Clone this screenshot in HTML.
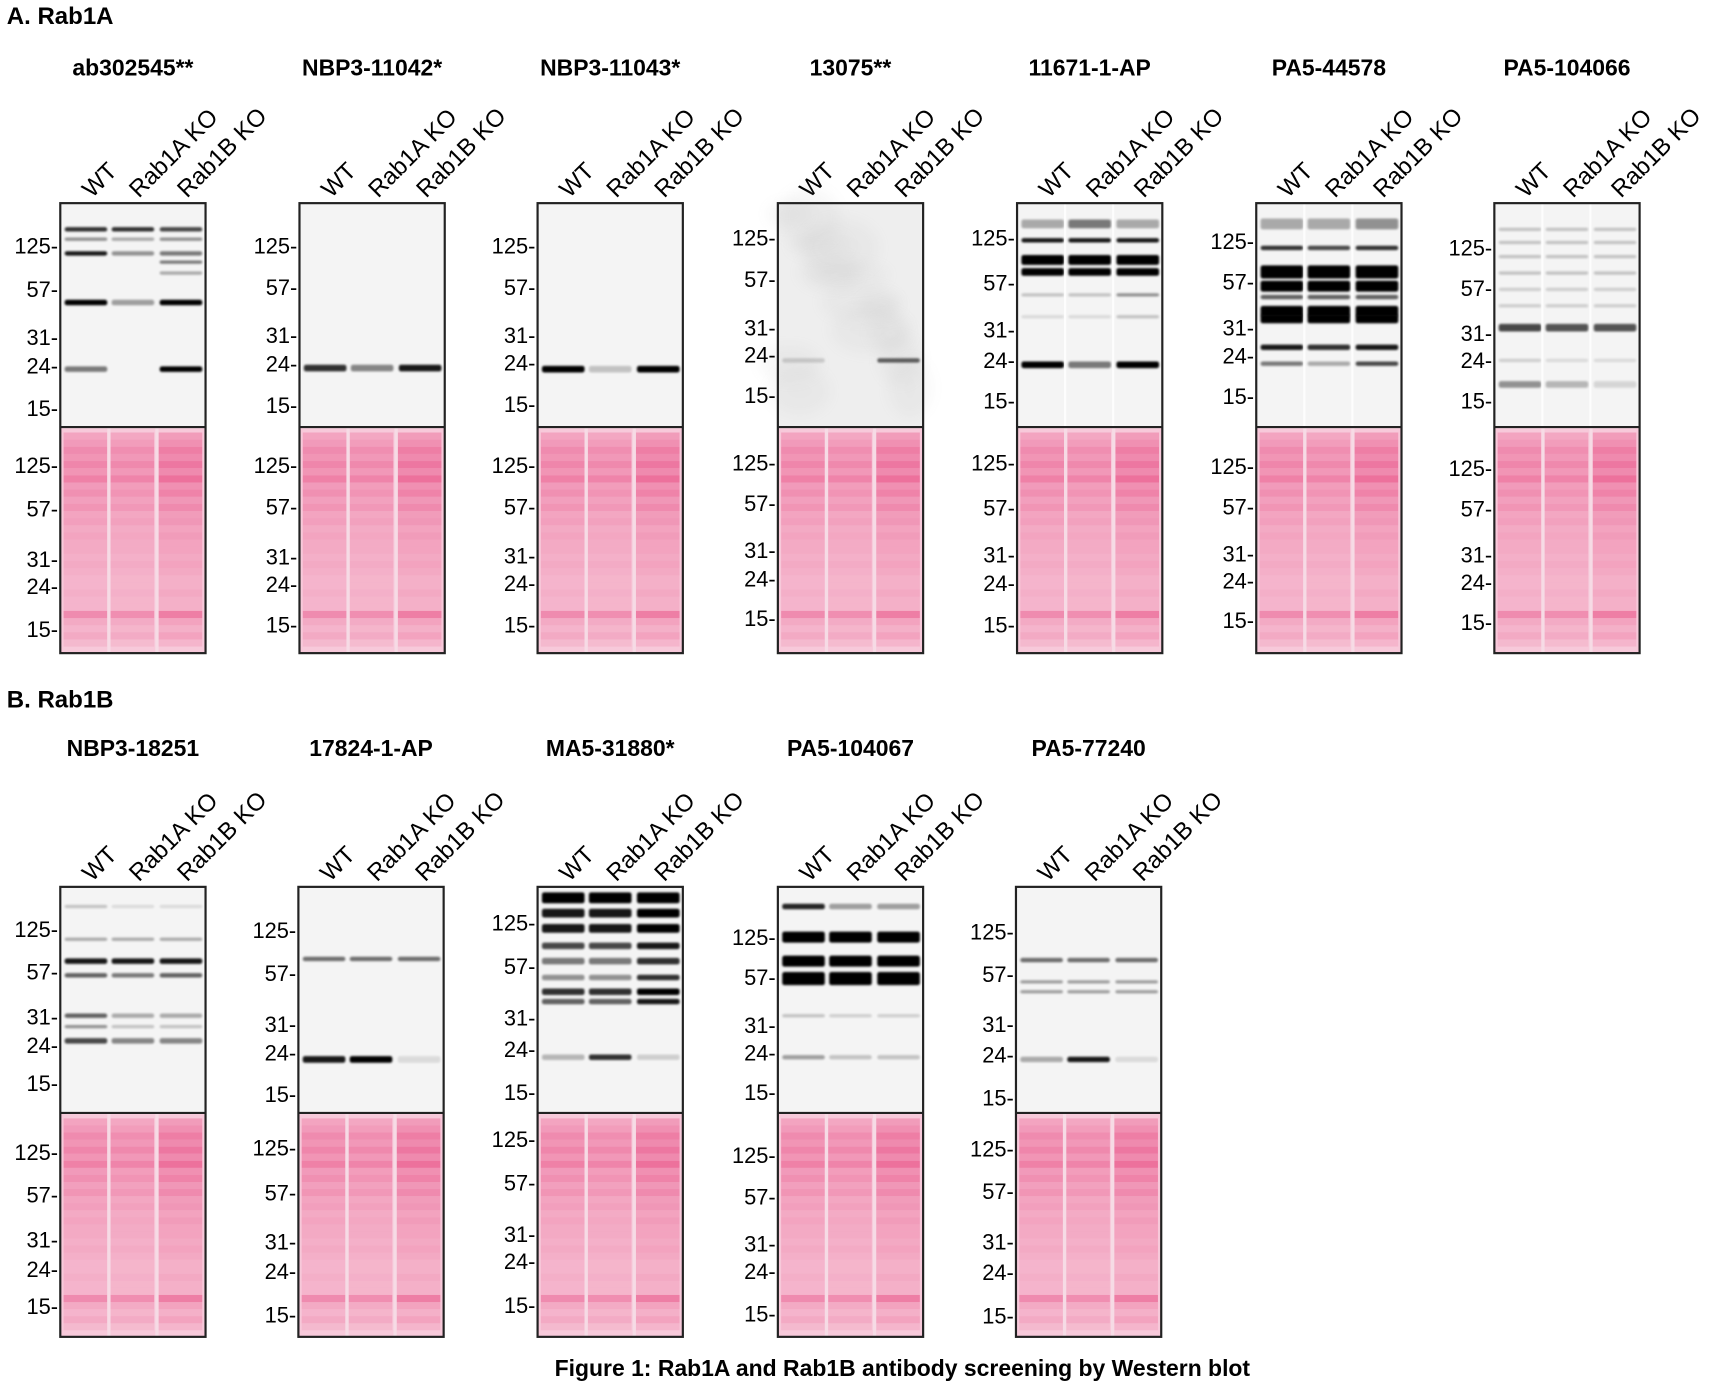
<!DOCTYPE html>
<html><head><meta charset="utf-8">
<style>
html,body{margin:0;padding:0;background:#fff;}
svg{display:block;font-family:"Liberation Sans",Arial,sans-serif;}
</style></head>
<body>
<svg id="s" width="1713" height="1386" viewBox="0 0 1568 1269" xmlns="http://www.w3.org/2000/svg">
<defs>
<filter id="bl" x="-50%" y="-50%" width="200%" height="200%"><feGaussianBlur stdDeviation="6"/></filter>
<filter id="bl2" x="-10%" y="-100%" width="120%" height="300%"><feGaussianBlur stdDeviation="0.9"/></filter>
</defs>
<text x="6" y="22" font-size="22" font-weight="bold">A.  Rab1A</text>
<text x="6" y="648" font-size="22" font-weight="bold">B.  Rab1B</text>
<text x="826" y="1260" font-size="21" font-weight="bold" text-anchor="middle">Figure 1: Rab1A and Rab1B antibody screening by Western blot</text>
<g id="g"></g>
</svg>
<script>
var g=document.getElementById('g');var h='';
function P(o){
 var x=o.x,w=133,t=o.t,m=o.m,b=o.b;
 var lanes=[x+23,x+66,x+110];
 h+='<text x="'+(x+w/2)+'" y="'+(o.ty+7)+'" font-size="21" font-weight="bold" text-anchor="middle">'+o.name+'</text>';
 var labs=['WT','Rab1A KO','Rab1B KO'];
 for(var i=0;i<3;i++){h+='<text transform="translate('+(lanes[i]+6)+','+(t-4)+') rotate(-45)" font-size="22">'+labs[i]+'</text>';}
 h+='<rect x="'+x+'" y="'+t+'" width="'+w+'" height="'+(m-t)+'" fill="'+(o.bg||'#f4f4f4')+'"/>';
 if(o.mott){for(var k=0;k<14;k++){h+='<ellipse cx="'+(x+10+((k*37)%120))+'" cy="'+(t+10+((k*53)%(m-t-20)))+'" rx="'+(20+k%3*8)+'" ry="'+(12+k%4*5)+'" fill="#999" opacity="0.07" filter="url(#bl)"/>';}}
 o.bands.forEach(function(bd){
  for(var i=0;i<3;i++){var a=bd[1][i];if(a<=0)continue;var th=bd[2]||4;
   h+='<rect x="'+(lanes[i]-19)+'" y="'+(bd[0]-th/2)+'" width="39" height="'+th+'" rx="2" fill="#000" opacity="'+a+'" filter="url(#bl2)"/>';}
 });
 h+='<rect x="'+(x+43)+'" y="'+t+'" width="2" height="'+(m-t)+'" fill="#fff" opacity="'+(o.gap||0)+'"/>';
 h+='<rect x="'+(x+87)+'" y="'+t+'" width="2" height="'+(m-t)+'" fill="#fff" opacity="'+(o.gap||0)+'"/>';
 h+='<rect x="'+x+'" y="'+(m+2)+'" width="'+w+'" height="'+(b-m-2)+'" fill="#f7c9da"/>';
 var pk=[0.35,0.45,0.6,0.5,0.65,0.5,0.7,0.45,0.55,0.4,0.5,0.35,0.4,0.3,0.35,0.3,0.3,0.25,0.3,0.25,0.2,0.2,0.25,0.2,0.2,0.6,0.3,0.2,0.3,0.15];
 var H=b-m-2;
 for(var i=0;i<3;i++){
  var mult=[0.9,0.85,1.1][i];
  for(var k=0;k<pk.length;k++){var yy=m+6+k*(H-10)/pk.length;
   h+='<rect x="'+(lanes[i]-20)+'" y="'+yy+'" width="40" height="'+((H-10)/pk.length)+'" fill="#e5306f" opacity="'+Math.min(0.8,pk[k]*mult*0.75)+'"/>';}
 }
 h+='<rect x="'+(x+43)+'" y="'+(m+2)+'" width="3" height="'+H+'" fill="#f6dbe5"/><rect x="'+(x+87)+'" y="'+(m+2)+'" width="3" height="'+H+'" fill="#f6dbe5"/>';
 h+='<rect x="'+x+'" y="'+t+'" width="'+w+'" height="'+(b-t)+'" fill="none" stroke="#222" stroke-width="2"/>';
 h+='<line x1="'+x+'" y1="'+(m+1)+'" x2="'+(x+w)+'" y2="'+(m+1)+'" stroke="#222" stroke-width="2"/>';
 var mk=['125-','57-','31-','24-','15-'];
 for(var i=0;i<5;i++){h+='<text x="'+(x-2)+'" y="'+(o.mu[i]+7)+'" font-size="20" text-anchor="end">'+mk[i]+'</text>';
  h+='<text x="'+(x-2)+'" y="'+(o.ml[i]+7)+'" font-size="20" text-anchor="end">'+mk[i]+'</text>';}
}
var A=62,B=685;
P({x:55,t:186,m:390,b:598,ty:A,name:'ab302545**',mu:[225,265,309,335,374],ml:[426,466,512,537,576],
 bands:[[210,[.8,.8,.7],4],[219,[.4,.3,.4],3],[232,[.9,.4,.5],4],[240,[0,0,.5],3],[250,[0,0,.3],3],[277,[1,.35,1],5],[338,[.5,0,1],5]]});
P({x:274,t:186,m:390,b:598,ty:A,name:'NBP3-11042*',mu:[225,263,307,333,371],ml:[426,464,510,535,572],
 bands:[[337,[.8,.45,.9],6]]});
P({x:492,t:186,m:390,b:598,ty:A,name:'NBP3-11043*',mu:[225,263,307,332,370],ml:[426,464,509,534,572],
 bands:[[338,[1,.2,1],6]]});
P({x:712,t:186,m:390,b:598,ty:A,name:'13075**',mott:1,bg:'#eee',mu:[218,256,300,325,362],ml:[424,461,504,530,566],
 bands:[[330,[.15,0,.6],4]]});
P({x:931,t:186,m:390,b:598,ty:A,name:'11671-1-AP',gap:.8,mu:[218,259,302,330,367],ml:[424,465,508,534,572],
 bands:[[205,[.3,.5,.3],8],[220,[.9,.9,.9],4],[238,[1,1,1],9],[249,[1,1,1],7],[270,[.2,.2,.4],3],[290,[.1,.1,.2],3],[334,[1,.5,1],6]]});
P({x:1150,t:186,m:390,b:598,ty:A,name:'PA5-44578',gap:.8,mu:[221,258,300,326,363],ml:[427,464,507,532,568],
 bands:[[205,[.3,.3,.4],10],[227,[.8,.7,.8],4],[249,[1,1,1],12],[262,[1,1,1],10],[272,[.6,.6,.6],4],[285,[1,1,1],10],[292,[1,1,1],8],[318,[.9,.8,.9],5],[333,[.5,.3,.7],4]]});
P({x:1368,t:186,m:390,b:598,ty:A,name:'PA5-104066',gap:.8,mu:[227,264,305,330,367],ml:[429,466,508,533,570],
 bands:[[210,[.2,.2,.2],3],[222,[.2,.2,.2],3],[235,[.2,.2,.2],3],[250,[.2,.2,.2],3],[265,[.15,.15,.15],3],[280,[.15,.15,.15],3],[300,[.7,.65,.65],7],[330,[.15,.1,.1],3],[352,[.4,.25,.12],6]]});
P({x:55,t:812,m:1018,b:1224,ty:B,name:'NBP3-18251',mu:[851,890,931,957,992],ml:[1055,1094,1135,1162,1196],
 bands:[[830,[.2,.1,.1],3],[860,[.3,.3,.3],3],[880,[.9,.9,.9],5],[893,[.6,.5,.6],4],[930,[.6,.3,.3],4],[940,[.4,.2,.2],3],[953,[.7,.45,.45],5]]});
P({x:273,t:812,m:1018,b:1224,ty:B,name:'17824-1-AP',mu:[852,891,938,964,1002],ml:[1051,1092,1137,1164,1204],
 bands:[[878,[.55,.55,.55],4],[970,[.9,1,.1],6]]});
P({x:492,t:812,m:1018,b:1224,ty:B,name:'MA5-31880*',mu:[845,885,932,961,1000],ml:[1043,1083,1130,1155,1195],
 bands:[[822,[1,1,1],10],[836,[.9,.9,1],8],[850,[.9,.9,1],8],[866,[.7,.7,.9],6],[880,[.5,.5,.8],6],[895,[.4,.4,.8],5],[908,[.8,.8,1],6],[917,[.6,.6,.9],5],[968,[.25,.8,.15],5]]});
P({x:712,t:812,m:1018,b:1224,ty:B,name:'PA5-104067',mu:[858,895,939,964,1000],ml:[1058,1096,1139,1164,1203],
 bands:[[830,[.85,.35,.35],5],[858,[1,1,1],10],[880,[1,1,1],10],[896,[1,1,1],12],[930,[.2,.15,.15],3],[968,[.35,.2,.2],4]]});
P({x:930,t:812,m:1018,b:1224,ty:B,name:'PA5-77240',mu:[853,892,938,966,1005],ml:[1052,1091,1137,1165,1205],
 bands:[[879,[.55,.55,.55],4],[899,[.35,.35,.35],3],[908,[.35,.35,.35],3],[970,[.3,.9,.1],5]]});
g.innerHTML=h;
</script>
</body></html>
